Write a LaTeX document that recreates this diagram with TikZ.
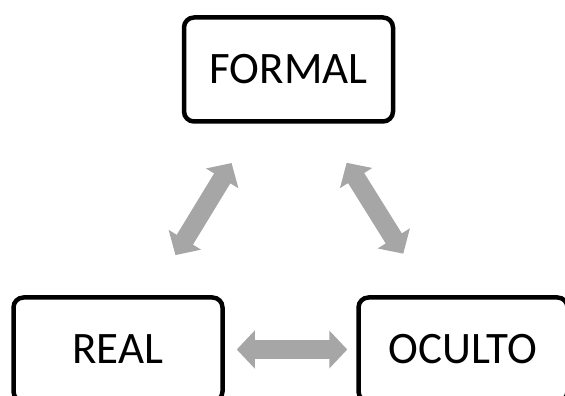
\documentclass[tikz,border=0pt]{standalone}
\usepackage{fontspec}
\setmainfont{Carlito}
\usetikzlibrary{arrows.meta}
\definecolor{arrowgray}{HTML}{A6A6A6}
\begin{document}
\begin{tikzpicture}[x=1pt,y=1pt,
  box/.style={draw=black, line width=4.5pt, rounded corners=10pt,
    minimum width=209pt, minimum height=104pt, inner sep=0pt,
    font=\fontsize{45}{54}\selectfont},
  dbl/.style={draw=arrowgray, line width=19pt,
    {Triangle[length=18pt,width=37pt]}-{Triangle[length=18pt,width=37pt]}}]
\useasboundingbox (0,0) rectangle (565,396);
\node[box] (formal) at (288.5,326.5) {FORMAL};
\node[box] (real) at (118,46.5) {REAL};
\node[box] (oculto) at (463,46.5) {OCULTO};
\draw[dbl, shorten <=46pt, shorten >=47pt] (formal) -- (real);
\draw[dbl, shorten <=46pt, shorten >=49pt] (formal) -- (oculto);
\draw[dbl, shorten <=12pt, shorten >=9pt] (real) -- (oculto);
\end{tikzpicture}
\end{document}
